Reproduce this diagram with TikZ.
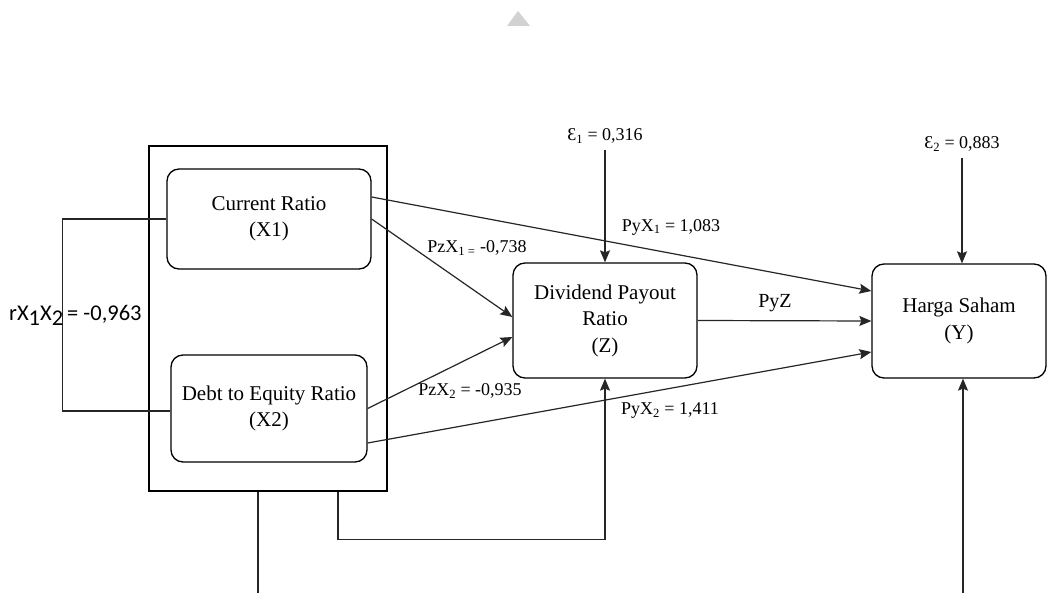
\documentclass[tikz,border=0pt]{standalone}
\usepackage{fontspec}
\setmainfont{Liberation Serif}
\newfontfamily\calfont{Carlito}
\newfontfamily\timesfont{Liberation Serif}
\usetikzlibrary{arrows.meta,calc}
\begin{document}
\begin{tikzpicture}[x=1pt,y=-1pt,
  box/.style={draw, line width=1.3pt, rounded corners=12pt, align=center,
    font=\timesfont\fontsize{21}{26.5}\selectfont, inner sep=0pt},
  conn/.style={line width=1.2pt, draw=black!85},
  arr/.style={conn, -{Stealth[length=12pt,width=10pt,inset=2pt]}},
  lbl/.style={font=\timesfont\fontsize{18}{21}\selectfont, inner sep=0pt}]
\useasboundingbox (0,0) rectangle (1047,593);
\fill[white] (0,0) rectangle (1047,593);
\fill[gray!35] (507,26) -- (530,26) -- (518,11) -- cycle;

% group box
\node[draw, line width=1.2pt, minimum width=238pt, minimum height=345pt, inner sep=0pt] (grp) at (268,318.5) {};

% variable boxes
\node[box, minimum width=204pt, minimum height=100pt] (cr) at (269,219) {Current Ratio\\(X1)};
\node[box, minimum width=196pt, minimum height=107pt] (de) at (269,408.5) {Debt to Equity Ratio\\(X2)};
\node[box, minimum width=184pt, minimum height=115pt] (dpr) at (605,320.5) {Dividend Payout\\Ratio\\(Z)};
\node[box, minimum width=174pt, minimum height=114pt] (hs) at (959,321) {Harga Saham\\(Y)};

% error terms
\node[lbl] (eps1) at (605,136) {Ɛ\textsubscript{1} = 0,316};
\node[lbl] (eps2) at (962,144) {Ɛ\textsubscript{2} = 0,883};
\draw[arr] ([yshift=-6pt]eps1.south) -- (eps1.south |- dpr.north);
\draw[arr] ([yshift=-6pt]eps2.south) -- (eps2.south |- hs.north);

% paths
\draw[arr] ([yshift=22pt]cr.east) -- ([yshift=30pt]hs.west);
\draw[arr] (cr.east) -- ([yshift=3.5pt]dpr.west);
\draw[arr] (de.east) -- ([yshift=-16.5pt]dpr.west);
\draw[arr] ([yshift=-34.5pt]de.east) -- ([yshift=-31pt]hs.west);
\draw[arr] (dpr.east) -- (hs.west);

% correlation bracket
\draw[conn] (cr.west) -- ++(-104,0) |- ([yshift=-2.5pt]de.west);

% bottom connectors
\draw[arr] ([xshift=70pt]grp.south) -- ++(0,48) -| (dpr.south);
\coordinate (b1) at (258,593);
\coordinate (b2) at (963,593);
\draw[conn] ([xshift=-10pt]grp.south) -- (b1);
\draw[arr] (b2) -- (b2 |- hs.south);

% labels
\node[lbl] (l1) at (671,227) {PyX\textsubscript{1} = 1,083};
\node[lbl] (l2) at (477,248) {PzX\textsubscript{1 =} -0,738};
\node[lbl] (l3) at (470,391) {PzX\textsubscript{2} = -0,935};
\node[lbl] (l4) at (670,411) {PyX\textsubscript{2} = 1,411};
\node[font=\timesfont\fontsize{20}{24}\selectfont, inner sep=0pt] (l5) at (775,303) {PyZ};
\node[anchor=west, inner sep=0pt, font=\calfont\fontsize{22.5}{26}\selectfont] (r12) at (9,315)
  {rX\raisebox{-5pt}{1}X\raisebox{-5pt}{2}\hspace{4pt}= -0,963};
\end{tikzpicture}
\end{document}
